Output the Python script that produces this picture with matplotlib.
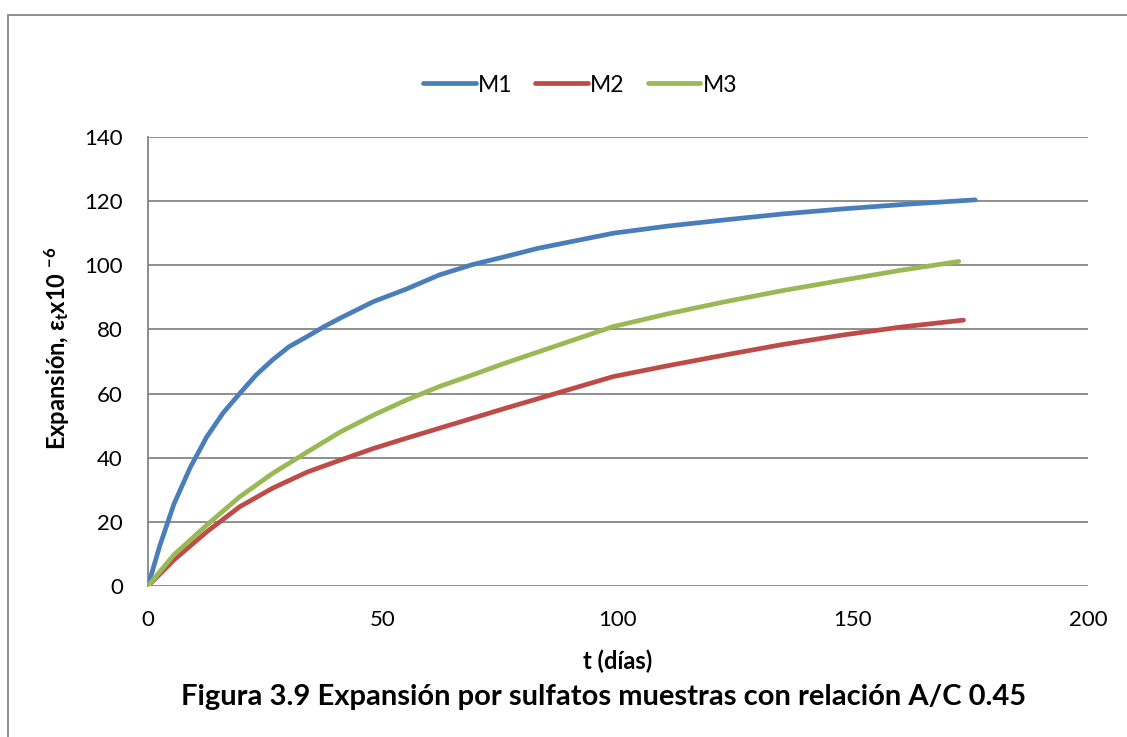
import matplotlib
matplotlib.use("Agg")
import matplotlib.pyplot as plt
from matplotlib.patches import Rectangle

plt.rcParams['font.family'] = ['Lato', 'DejaVu Sans']
plt.rcParams['mathtext.fontset'] = 'custom'
plt.rcParams['mathtext.rm'] = 'Lato'
plt.rcParams['mathtext.bf'] = 'Lato:bold'
plt.rcParams['mathtext.it'] = 'Lato:italic'

# Data
m1_t = [0, 2.5, 5.5, 9, 12.5, 16, 19.5, 23, 26.5, 30, 34, 37.5, 41, 48, 55, 62, 69, 76, 83,
        99, 111, 123, 135, 148, 162, 176]
m1_v = [0, 12.5, 25.5, 37, 46.5, 54, 60, 65.8, 70.5, 74.6, 77.9, 80.9, 83.6, 88.7, 92.6, 97.0,
        100.2, 102.7, 105.3, 110, 112.3, 114.2, 116.0, 117.6, 119.1, 120.4]

m2_t = [0, 5.5, 12.5, 19.5, 26.5, 34, 41, 48, 55, 62, 69, 76, 99, 111, 123, 135, 148, 160, 173.5]
m2_v = [0, 8.1, 16.9, 24.7, 30.5, 35.6, 39.3, 42.9, 46.1, 49.2, 52.3, 55.4, 65.3, 68.8, 72.1,
        75.3, 78.3, 80.7, 82.9]

m3_t = [0, 5.5, 12.5, 19.5, 26.5, 34, 41, 48, 55, 62, 69, 76, 99, 111, 123, 135, 148, 160, 172.5]
m3_v = [0, 9.7, 19.0, 27.8, 35.1, 41.9, 48.1, 53.3, 58.0, 62.2, 65.8, 69.5, 80.9, 85.0, 88.7,
        92.1, 95.4, 98.4, 101.2]

series_names = ['M1', 'M2', 'M3']
x_ticks = [0, 50, 100, 150, 200]
y_ticks = [0, 20, 40, 60, 80, 100, 120, 140]

colors = ['#4A7EBB', '#BE4B48', '#98B954']

W, H = 1127, 737
fig = plt.figure(figsize=(W / 100, H / 100), dpi=100)
ax = fig.add_axes([148 / W, 1 - 586 / H, (1088 - 148) / W, (586 - 137) / H])

for t, v, c, n in zip([m1_t, m2_t, m3_t], [m1_v, m2_v, m3_v], colors, series_names):
    ax.plot(t, v, color=c, lw=3.4, label=n, solid_capstyle='round', solid_joinstyle='round', zorder=3)

ax.set_xlim(0, 200)
ax.set_ylim(0, 140)
ax.set_xticks(x_ticks)
ax.set_yticks(y_ticks)
ax.tick_params(axis='both', length=0, labelsize=16, colors='black')
ax.tick_params(axis='x', pad=17)
ax.tick_params(axis='y', pad=18)
ax.yaxis.grid(True, color='#868686', lw=1.3)
ax.set_axisbelow(True)
for s in ['top', 'right', 'bottom']:
    ax.spines[s].set_visible(False)
ax.spines['left'].set_color('#868686')
ax.spines['left'].set_linewidth(1.3)

ax.set_xlabel('t (días)', fontsize=17, fontweight='bold', labelpad=14)
ax.set_ylabel(r'Expansión, ε$_\mathbf{t}$x10 $^{\mathbf{-6}}$', fontsize=17, fontweight='bold')
ax.yaxis.set_label_coords(-0.082, 0.53)

leg = ax.legend(loc='center', bbox_to_anchor=(580 / W, 1 - 85 / H), bbox_transform=fig.transFigure,
                ncol=3, frameon=False, fontsize=16.5, handlelength=2.3, handletextpad=0.1,
                columnspacing=1.0)

fig.text(604 / W, 1 - 697 / H, 'Figura 3.9 Expansión por sulfatos muestras con relación A/C 0.45',
         ha='center', va='center', fontsize=21, fontweight='bold')

fig.patches.append(Rectangle((8 / W, -0.1), 1.2, 1 - 15 / H + 0.1, transform=fig.transFigure,
                             fill=False, edgecolor='#868686', lw=1.3))

fig.savefig('out.png', dpi=100)
